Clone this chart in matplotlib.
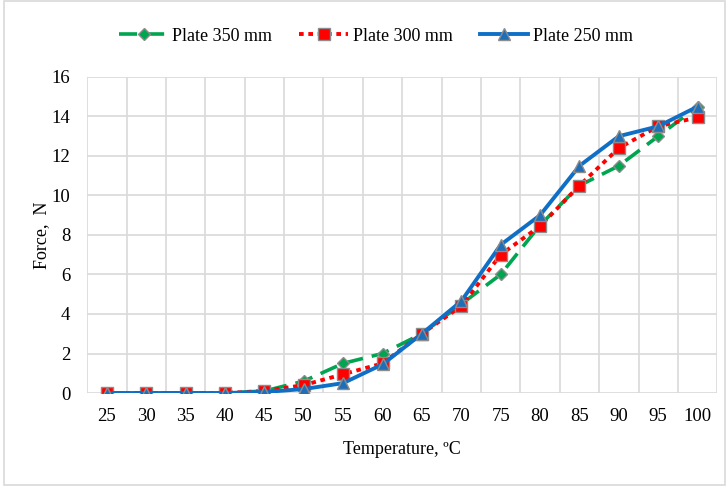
import numpy as np
import matplotlib.pyplot as plt
from matplotlib.patches import Rectangle

temps = [25, 30, 35, 40, 45, 50, 55, 60, 65, 70, 75, 80, 85, 90, 95, 100]
plate_350 = [0, 0, 0, 0, 0.1, 0.6, 1.5, 2.0, 3.0, 4.5, 6.0, 8.5, 10.5, 11.5, 13.0, 14.5]
plate_300 = [0, 0, 0, 0, 0.1, 0.4, 0.95, 1.5, 3.0, 4.4, 7.0, 8.45, 10.5, 12.4, 13.5, 13.95]
plate_250 = [0, 0, 0, 0, 0.05, 0.2, 0.5, 1.45, 3.0, 4.65, 7.5, 9.0, 11.5, 13.0, 13.5, 14.5]

plt.rcParams['font.family'] = ['Liberation Serif', 'DejaVu Sans']

fig = plt.figure(figsize=(7.26, 4.87), dpi=100)
ax = fig.add_axes([0.12, 0.193, 0.868, 0.649])

x = np.arange(len(temps))
edge = '#8c8c8c'
ax.plot(x, plate_350, color='#00a550', linestyle=(0, (5, 2.5)), linewidth=2.6,
        marker='D', markersize=6.5, markerfacecolor='#00a550', markeredgecolor=edge,
        markeredgewidth=1, label='Plate 350 mm', zorder=3)
ax.plot(x, plate_300, color='#ff0000', linestyle=(0, (1.2, 1.2)), linewidth=2.8,
        marker='s', markersize=8, markerfacecolor='#ff0000', markeredgecolor=edge,
        markeredgewidth=1, label='Plate 300 mm', zorder=4)
ax.plot(x, plate_250, color='#0f6fc6', linestyle='-', linewidth=2.8,
        marker='^', markersize=8.5, markerfacecolor='#1f6fb8', markeredgecolor=edge,
        markeredgewidth=1, label='Plate 250 mm', zorder=5)

ax.set_xlim(-0.5, len(temps) - 0.5)
ax.set_ylim(0, 16)
ax.set_yticks(np.arange(0, 17, 2))
ax.set_xticks(x)
ax.set_xticklabels([str(t) for t in temps])
ax.set_xticks(np.arange(-0.5, len(temps), 1), minor=True)
ax.grid(True, which='minor', axis='x', color='#d9d9d9', linewidth=1.2)
ax.grid(True, which='major', axis='y', color='#d9d9d9', linewidth=1.2)
ax.set_axisbelow(True)
for s in ax.spines.values():
    s.set_visible(False)
ax.tick_params(which='both', length=0, labelsize=13.5, colors='black')
ax.tick_params(axis='x', pad=11)
ax.tick_params(axis='y', pad=12)

ax.set_xlabel('Temperature, ºC', fontsize=13, labelpad=11)
ax.set_ylabel('Force,  N', fontsize=13, labelpad=1)

fig.legend(loc='center', bbox_to_anchor=(0.518, 0.926), ncol=3, frameon=False,
           fontsize=13, handlelength=2.7, columnspacing=1.5, handletextpad=0.25)

fig.patches.append(Rectangle((0.006, 0.004), 0.992, 0.993, transform=fig.transFigure,
                             fill=False, edgecolor='#d9d9d9', linewidth=1.2))

fig.savefig('out.png', dpi=100)
